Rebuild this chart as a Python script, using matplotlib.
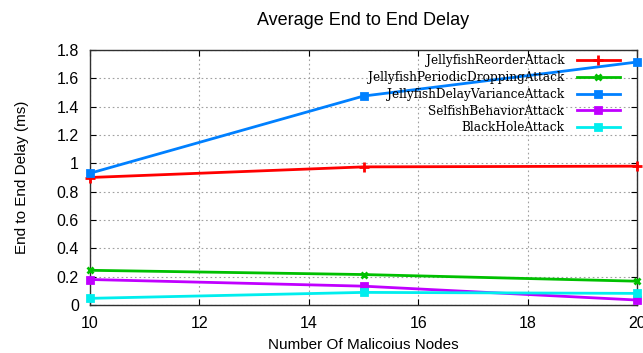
import matplotlib
matplotlib.use("Agg")
import matplotlib.pyplot as plt
from matplotlib.ticker import FormatStrFormatter as fsf

nodes = [10, 15, 20]
reorder = [0.90, 0.975, 0.98]
periodic = [0.245, 0.215, 0.168]
delay_var = [0.93, 1.475, 1.715]
selfish = [0.18, 0.133, 0.035]
blackhole = [0.047, 0.089, 0.082]

labels = [
	"JellyfishReorderAttack",
	"JellyfishPeriodicDroppingAttack",
	"JellyfishDelayVarianceAttack",
	"SelfishBehaviorAttack",
	"BlackHoleAttack",
]

plt.rcParams["font.family"] = ["Liberation Sans", "DejaVu Sans"]

fig = plt.figure(figsize = (6.43, 3.53), dpi = 100)
ax = fig.add_axes([90 / 643, 1 - 305 / 353, 547 / 643, 255 / 353])

series = [
	(reorder, "#ff0000", "+", 7),
	(periodic, "#00c000", "x", 5),
	(delay_var, "#0080ff", "s", 5),
	(selfish, "#c000ff", "s", 5),
	(blackhole, "#00eeee", "s", 5),
]
for (vals, col, mk, ms), lab in zip(series, labels):
	ax.plot(nodes, vals, color = col, marker = mk, markersize = ms,
		markeredgewidth = 2, lw = 2, label = lab, clip_on = False, zorder = 3)

ax.set_xlim(10, 20)
ax.set_ylim(0, 1.8)
ax.set_xticks(range(10, 21, 2))
ax.set_yticks([0.2 * i for i in range(10)])
ax.yaxis.set_major_formatter(fsf("%g"))
ax.grid(True, color = "#a0a0a0", linestyle = (0, (1.5, 2.5)), lw = 0.8)
ax.tick_params(direction = "in", top = True, right = True, labelsize = 11.5,
	length = 4, width = 0.8, pad = 8)
for s in ax.spines.values():
	s.set_linewidth(1)
	s.set_color("#303030")

ax.set_title("Average End to End Delay", fontsize = 13, pad = 18)
ax.set_xlabel("Number Of Malicoius Nodes", fontsize = 11, labelpad = 5)
ax.set_ylabel("End to End Delay (ms)", fontsize = 11, labelpad = 20)

ax.legend(loc = "upper right", bbox_to_anchor = (620 / 643, 1 - 54 / 353),
	bbox_transform = fig.transFigure, frameon = False, markerfirst = False,
	prop = {"family": "DejaVu Serif", "size": 8.7}, handlelength = 3.6,
	handletextpad = 1.0, labelspacing = 0.32, borderpad = 0, borderaxespad = 0)

fig.savefig("out.png", dpi = 100)
